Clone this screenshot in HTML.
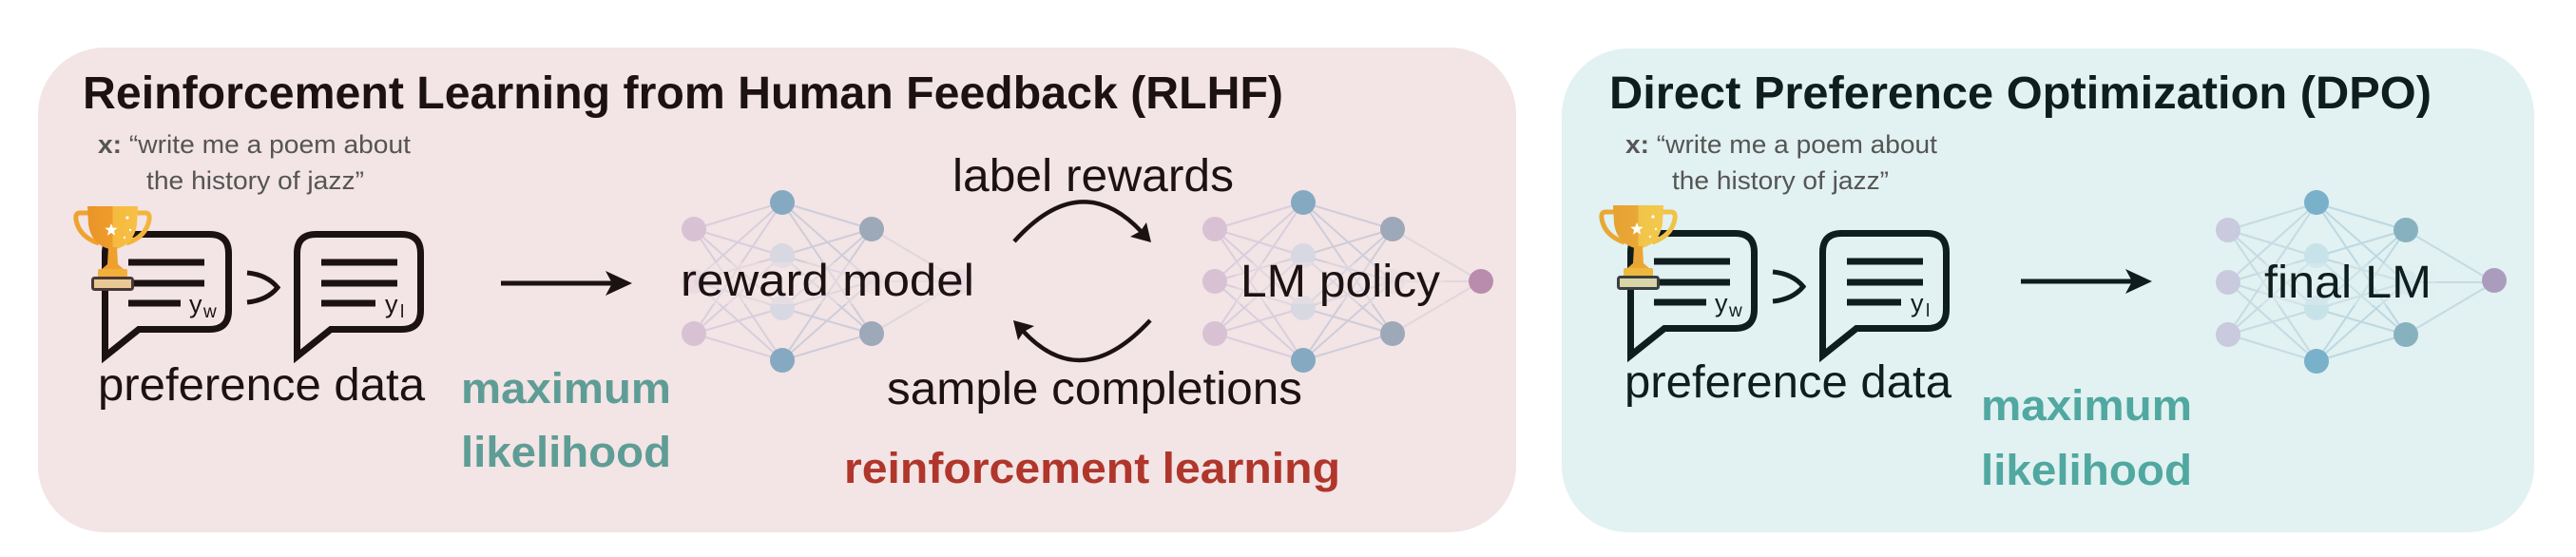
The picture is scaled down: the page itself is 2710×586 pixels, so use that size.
<!DOCTYPE html>
<html>
<head>
<meta charset="utf-8">
<style>
html,body{margin:0;padding:0;background:#ffffff;width:2710px;height:586px;overflow:hidden}
svg{display:block}
text{font-family:"Liberation Sans",sans-serif}
</style>
</head>
<body>
<svg width="2710" height="586" viewBox="0 0 2710 586" xmlns="http://www.w3.org/2000/svg">
<defs>
<linearGradient id="cupA" x1="92" y1="0" x2="145" y2="0" gradientUnits="userSpaceOnUse">
<stop offset="0" stop-color="#ea9428"/><stop offset="0.5" stop-color="#ee9c2c"/><stop offset="0.5" stop-color="#f5ba3e"/><stop offset="1" stop-color="#f7c046"/>
</linearGradient>
<linearGradient id="cupB" x1="92" y1="0" x2="145" y2="0" gradientUnits="userSpaceOnUse">
<stop offset="0" stop-color="#e6a232"/><stop offset="0.5" stop-color="#eaa836"/><stop offset="0.5" stop-color="#f0c448"/><stop offset="1" stop-color="#f3c94e"/>
</linearGradient>
</defs>

<!-- Panels -->
<rect x="40" y="50" width="1555" height="510" rx="70" ry="70" fill="#f3e4e5"/>
<rect x="1643" y="51" width="1023" height="509" rx="70" ry="70" fill="#e2f1f1"/>

<!-- Titles -->
<text x="87" y="114" font-size="48" font-weight="bold" fill="#1c1212" textLength="1263" lengthAdjust="spacingAndGlyphs">Reinforcement Learning from Human Feedback (RLHF)</text>
<text x="1693" y="114" font-size="48" font-weight="bold" fill="#0f1d1d" textLength="865" lengthAdjust="spacingAndGlyphs">Direct Preference Optimization (DPO)</text>

<!-- Prompts -->
<text x="103" y="161" font-size="27" fill="#555555" textLength="329" lengthAdjust="spacingAndGlyphs"><tspan font-weight="bold">x:</tspan> “write me a poem about</text>
<text x="154" y="199" font-size="27" fill="#555555" textLength="229" lengthAdjust="spacingAndGlyphs">the history of jazz”</text>
<text x="1710" y="161" font-size="27" fill="#555555" textLength="328" lengthAdjust="spacingAndGlyphs"><tspan font-weight="bold">x:</tspan> “write me a poem about</text>
<text x="1759" y="199" font-size="27" fill="#555555" textLength="228" lengthAdjust="spacingAndGlyphs">the history of jazz”</text>

<!-- RLHF preference data group -->
<g stroke="#1c1212" fill="none" stroke-width="7" stroke-linejoin="miter">
<path d="M146 346.5 H220.5 Q240.5 346.5 240.5 326.5 V266.5 Q240.5 246.5 220.5 246.5 H130.5 Q110.5 246.5 110.5 266.5 V375 Z"/>
<path d="M348 346.5 H422.5 Q442.5 346.5 442.5 326.5 V266.5 Q442.5 246.5 422.5 246.5 H332.5 Q312.5 246.5 312.5 266.5 V375 Z"/>
</g>
<g fill="#1c1212">
<rect x="135" y="272.5" width="80" height="7"/>
<rect x="135" y="294.5" width="80" height="7"/>
<rect x="135" y="315.5" width="55" height="7"/>
<rect x="338" y="272.5" width="80" height="7"/>
<rect x="338" y="294.5" width="80" height="7"/>
<rect x="338" y="315.5" width="57" height="7"/>
<text x="199" y="329" font-size="27">y</text>
<text x="214" y="334" font-size="19">w</text>
<text x="405" y="329" font-size="27">y</text>
<text x="421" y="334" font-size="19">l</text>
</g>
<path d="M260 287 Q281 289 292 302.5 Q281 316 260 318" stroke="#1c1212" stroke-width="5" fill="none"/>

<!-- RLHF trophy -->
<g>
<path d="M96 224 L84 224 Q79 224 80 231 Q83 249 104 256" stroke="#efa32f" stroke-width="5" fill="none"/>
<path d="M141 224 L153 224 Q158 224 157 231 Q154 249 133 256" stroke="#f3b43a" stroke-width="5" fill="none"/>
<path d="M92 217 H145 L144 236 Q141 257 122 262 H115 Q96 257 93 236 Z" fill="url(#cupA)"/>
<path d="M114 260 H123 L124 278 L131 284 H106 L113 278 Z" fill="#ef9f2e"/>
<rect x="103" y="283" width="31" height="9" rx="2" fill="#f2b03a"/>
<rect x="97.5" y="292.5" width="42" height="12" rx="2" fill="#e8c994" stroke="#4a3838" stroke-width="3"/>
<polygon points="117,235 118.8,239.6 123.7,239.8 119.9,242.9 121.1,247.7 117,245 112.9,247.7 114.1,242.9 110.3,239.8 115.2,239.6" fill="#ffffff"/>
<circle cx="134" cy="229" r="1.6" fill="#ffffff"/>
<circle cx="137" cy="242" r="1.2" fill="#ffffff"/>
<circle cx="131" cy="250" r="1.2" fill="#ffffff"/>
</g>

<!-- RLHF arrow -->
<line x1="527" y1="298" x2="645" y2="298" stroke="#1c1212" stroke-width="5"/>
<polygon points="665,298 637,285 644,298 637,311" fill="#1c1212"/>

<!-- Text: preference data / maximum likelihood (RLHF) -->
<text x="103" y="421" font-size="48" fill="#1c1212" textLength="344" lengthAdjust="spacingAndGlyphs">preference data</text>
<text x="485" y="424" font-size="45" font-weight="bold" fill="#5e9d95" textLength="221" lengthAdjust="spacingAndGlyphs">maximum</text>
<text x="485" y="491" font-size="45" font-weight="bold" fill="#5e9d95" textLength="221" lengthAdjust="spacingAndGlyphs">likelihood</text>

<!-- Reward model NN -->
<g transform="translate(730,296)">
<path d="M0 -55L93 -83M0 -55L93 -27M0 -55L93 28M0 -55L93 83M0 0L93 -83M0 0L93 -27M0 0L93 28M0 0L93 83M0 55L93 -83M0 55L93 -27M0 55L93 28M0 55L93 83" stroke="#b7b4d2" stroke-width="2" stroke-opacity="0.45" fill="none"/>
<path d="M93 -83L187 -55M93 -83L187 0M93 -83L187 55M93 -27L187 -55M93 -27L187 0M93 -27L187 55M93 28L187 -55M93 28L187 0M93 28L187 55M93 83L187 -55M93 83L187 0M93 83L187 55" stroke="#9fb2cc" stroke-width="2" stroke-opacity="0.45" fill="none"/>
<path d="M187 -55L280 0M187 0L280 0M187 55L280 0" stroke="#c0c2d8" stroke-width="2" stroke-opacity="0.4" fill="none"/>
<circle cx="0" cy="-55" r="13" fill="#d9c1d4"/>
<circle cx="0" cy="0" r="13" fill="#d9c1d4" opacity="0.45"/>
<circle cx="0" cy="55" r="13" fill="#d9c1d4"/>
<circle cx="93" cy="-83" r="13" fill="#86a9c2"/>
<circle cx="93" cy="-27" r="13" fill="#d8d8e2"/>
<circle cx="93" cy="28" r="13" fill="#d8d8e2"/>
<circle cx="93" cy="83" r="13" fill="#86a9c2"/>
<circle cx="187" cy="-55" r="13" fill="#9da8b8"/>
<circle cx="187" cy="0" r="13" fill="#e4d6e0" opacity="0.7"/>
<circle cx="187" cy="55" r="13" fill="#9da8b8"/>
<circle cx="280" cy="0" r="13" fill="#e6cfdc" opacity="0.8"/>
</g>
<rect x="712" y="276" width="318" height="44" fill="#f3e4e5" opacity="0.45"/>
<text x="716" y="311" font-size="47" fill="#1c1212" textLength="309" lengthAdjust="spacingAndGlyphs">reward model</text>

<!-- LM policy NN -->
<g transform="translate(1278,296)">
<path d="M0 -55L93 -83M0 -55L93 -27M0 -55L93 28M0 -55L93 83M0 0L93 -83M0 0L93 -27M0 0L93 28M0 0L93 83M0 55L93 -83M0 55L93 -27M0 55L93 28M0 55L93 83" stroke="#b7b4d2" stroke-width="2" stroke-opacity="0.45" fill="none"/>
<path d="M93 -83L187 -55M93 -83L187 0M93 -83L187 55M93 -27L187 -55M93 -27L187 0M93 -27L187 55M93 28L187 -55M93 28L187 0M93 28L187 55M93 83L187 -55M93 83L187 0M93 83L187 55" stroke="#9fb2cc" stroke-width="2" stroke-opacity="0.45" fill="none"/>
<path d="M187 -55L280 0M187 0L280 0M187 55L280 0" stroke="#c0c2d8" stroke-width="2" stroke-opacity="0.4" fill="none"/>
<circle cx="0" cy="-55" r="13" fill="#d9c1d4"/>
<circle cx="0" cy="0" r="13" fill="#d9c1d4"/>
<circle cx="0" cy="55" r="13" fill="#d9c1d4"/>
<circle cx="93" cy="-83" r="13" fill="#86a9c2"/>
<circle cx="93" cy="-27" r="13" fill="#d8d8e2"/>
<circle cx="93" cy="28" r="13" fill="#d8d8e2"/>
<circle cx="93" cy="83" r="13" fill="#86a9c2"/>
<circle cx="187" cy="-55" r="13" fill="#9da8b8"/>
<circle cx="187" cy="0" r="13" fill="#e4d6e0" opacity="0.7"/>
<circle cx="187" cy="55" r="13" fill="#9da8b8"/>
<circle cx="280" cy="0" r="13" fill="#b98cae"/>
</g>
<rect x="1300" y="276" width="220" height="44" fill="#f3e4e5" opacity="0.4"/>
<text x="1305" y="312" font-size="48" fill="#1c1212" textLength="210" lengthAdjust="spacingAndGlyphs">LM policy</text>

<!-- Cycle arrows -->
<text x="1002" y="201" font-size="48" fill="#1c1212" textLength="296" lengthAdjust="spacingAndGlyphs">label rewards</text>
<path d="M1067 254 Q1137 176 1201 244" stroke="#1c1212" stroke-width="4.5" fill="none"/>
<polygon points="1211,255 1189,249 1200,243 1206,234" fill="#1c1212"/>
<path d="M1210 337 Q1138 415 1076 348" stroke="#1c1212" stroke-width="4.5" fill="none"/>
<polygon points="1066,337 1088,343 1077,349 1071,358" fill="#1c1212"/>
<text x="933" y="425" font-size="48" fill="#1c1212" textLength="437" lengthAdjust="spacingAndGlyphs">sample completions</text>
<text x="888" y="508" font-size="45" font-weight="bold" fill="#b0362b" textLength="522" lengthAdjust="spacingAndGlyphs">reinforcement learning</text>

<!-- DPO preference data group -->
<g transform="translate(1605,-1)">
<g stroke="#0f1d1d" fill="none" stroke-width="7" stroke-linejoin="miter">
<path d="M146 346.5 H220.5 Q240.5 346.5 240.5 326.5 V266.5 Q240.5 246.5 220.5 246.5 H130.5 Q110.5 246.5 110.5 266.5 V375 Z"/>
<path d="M348 346.5 H422.5 Q442.5 346.5 442.5 326.5 V266.5 Q442.5 246.5 422.5 246.5 H332.5 Q312.5 246.5 312.5 266.5 V375 Z"/>
</g>
<g fill="#0f1d1d">
<rect x="135" y="272.5" width="80" height="7"/>
<rect x="135" y="294.5" width="80" height="7"/>
<rect x="135" y="315.5" width="55" height="7"/>
<rect x="338" y="272.5" width="80" height="7"/>
<rect x="338" y="294.5" width="80" height="7"/>
<rect x="338" y="315.5" width="57" height="7"/>
<text x="199" y="329" font-size="27">y</text>
<text x="214" y="334" font-size="19">w</text>
<text x="405" y="329" font-size="27">y</text>
<text x="421" y="334" font-size="19">l</text>
</g>
<path d="M260 287 Q281 289 292 302.5 Q281 316 260 318" stroke="#0f1d1d" stroke-width="5" fill="none"/>
<g>
<path d="M96 224 L84 224 Q79 224 80 231 Q83 249 104 256" stroke="#e9a834" stroke-width="5" fill="none"/>
<path d="M141 224 L153 224 Q158 224 157 231 Q154 249 133 256" stroke="#f0c248" stroke-width="5" fill="none"/>
<path d="M92 217 H145 L144 236 Q141 257 122 262 H115 Q96 257 93 236 Z" fill="url(#cupB)"/>
<path d="M114 260 H123 L124 278 L131 284 H106 L113 278 Z" fill="#eaa634"/>
<rect x="103" y="283" width="31" height="9" rx="2" fill="#eeb83e"/>
<rect x="97.5" y="292.5" width="42" height="12" rx="2" fill="#d9d5a8" stroke="#3a4040" stroke-width="3"/>
<polygon points="117,235 118.8,239.6 123.7,239.8 119.9,242.9 121.1,247.7 117,245 112.9,247.7 114.1,242.9 110.3,239.8 115.2,239.6" fill="#ffffff"/>
<circle cx="134" cy="229" r="1.6" fill="#ffffff"/>
<circle cx="137" cy="242" r="1.2" fill="#ffffff"/>
<circle cx="131" cy="250" r="1.2" fill="#ffffff"/>
</g>
</g>

<!-- DPO arrow -->
<line x1="2126" y1="296" x2="2244" y2="296" stroke="#0f1d1d" stroke-width="5"/>
<polygon points="2264,296 2236,283 2243,296 2236,309" fill="#0f1d1d"/>

<text x="1709" y="418" font-size="48" fill="#0f1d1d" textLength="344" lengthAdjust="spacingAndGlyphs">preference data</text>
<text x="2084" y="442" font-size="45" font-weight="bold" fill="#50a8a0" textLength="222" lengthAdjust="spacingAndGlyphs">maximum</text>
<text x="2084" y="510" font-size="45" font-weight="bold" fill="#50a8a0" textLength="222" lengthAdjust="spacingAndGlyphs">likelihood</text>

<!-- final LM NN -->
<g transform="translate(2344,297)">
<path d="M0 -55L93 -83M0 -55L93 -27M0 -55L93 28M0 -55L93 83M0 0L93 -83M0 0L93 -27M0 0L93 28M0 0L93 83M0 55L93 -83M0 55L93 -27M0 55L93 28M0 55L93 83" stroke="#a9c6d8" stroke-width="2" stroke-opacity="0.5" fill="none"/>
<path d="M93 -83L187 -55M93 -83L187 0M93 -83L187 55M93 -27L187 -55M93 -27L187 0M93 -27L187 55M93 28L187 -55M93 28L187 0M93 28L187 55M93 83L187 -55M93 83L187 0M93 83L187 55" stroke="#8fbcd0" stroke-width="2" stroke-opacity="0.45" fill="none"/>
<path d="M187 -55L280 0M187 0L280 0M187 55L280 0" stroke="#a8c6d4" stroke-width="2" stroke-opacity="0.5" fill="none"/>
<circle cx="0" cy="-55" r="13" fill="#c9cadd"/>
<circle cx="0" cy="0" r="13" fill="#c9cadd"/>
<circle cx="0" cy="55" r="13" fill="#c9cadd"/>
<circle cx="93" cy="-84" r="13" fill="#79b1cb"/>
<circle cx="93" cy="-28" r="13" fill="#c8e2ea"/>
<circle cx="93" cy="27" r="13" fill="#c8e2ea"/>
<circle cx="93" cy="83" r="13" fill="#79b1cb"/>
<circle cx="187" cy="-55" r="13" fill="#88b1bf"/>
<circle cx="187" cy="0" r="13" fill="#d0e4ea" opacity="0.8"/>
<circle cx="187" cy="55" r="13" fill="#88b1bf"/>
<circle cx="280" cy="-2" r="13" fill="#ab9cbd"/>
</g>
<rect x="2377" y="277" width="186" height="44" fill="#e2f1f1" opacity="0.4"/>
<text x="2382" y="313" font-size="48" fill="#0f1d1d" textLength="176" lengthAdjust="spacingAndGlyphs">final LM</text>

</svg>
</body>
</html>
